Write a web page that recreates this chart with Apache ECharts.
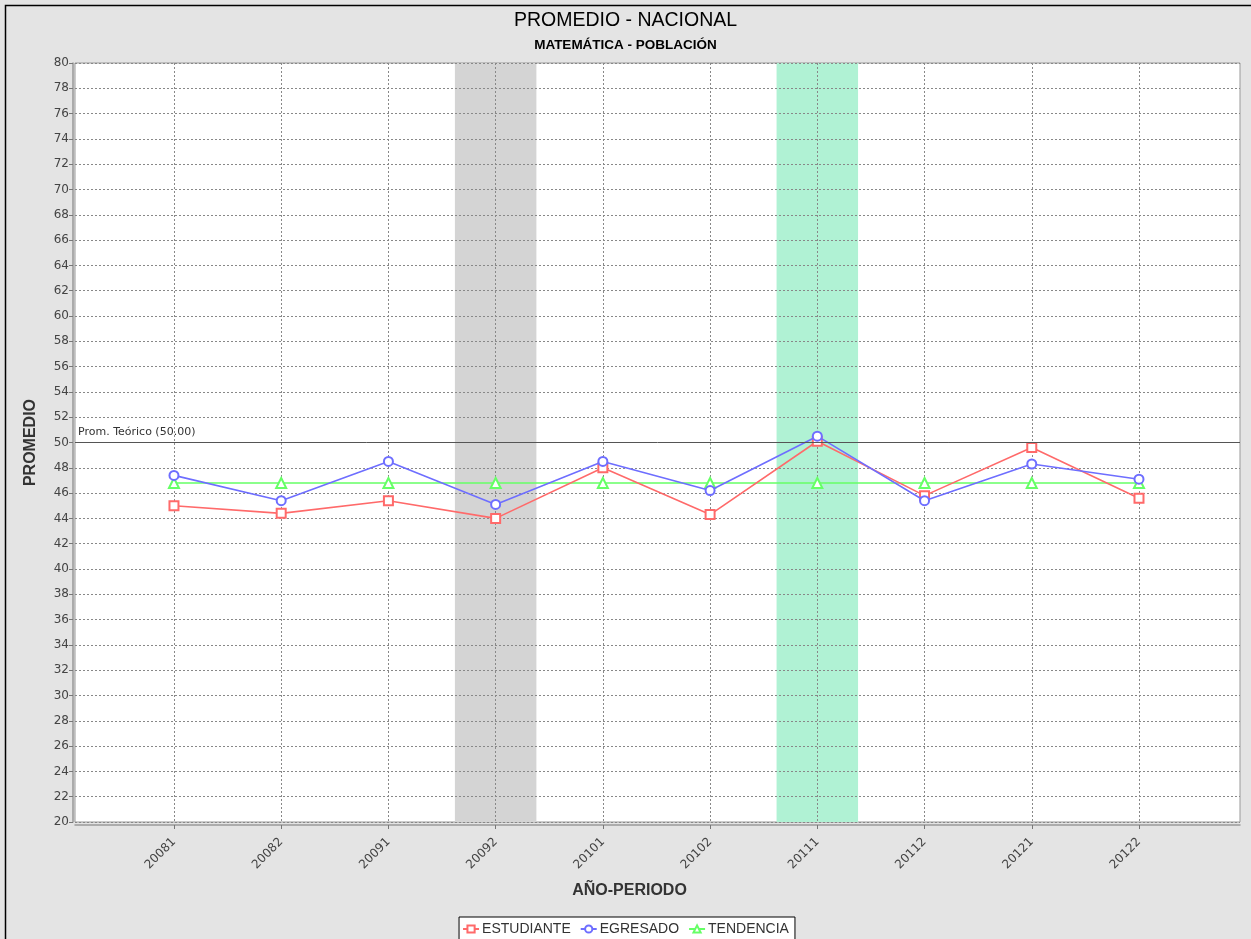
<!DOCTYPE html>
<html>
<head>
<meta charset="utf-8">
<script src="https://cdn.jsdelivr.net/npm/echarts@6/dist/echarts.min.js"></script>
<style>
html,body{margin:0;padding:0;background:#e4e4e4;}
#chart{width:1251px;height:939px;}
</style>
</head>
<body>
<div id="chart"></div>
<script>
const categories = ['20081','20082','20091','20092','20101','20102','20111','20112','20121','20122'];
const estudiante = [45.0, 44.4, 45.4, 44.0, 48.0, 44.3, 50.1, 45.8, 49.6, 45.6];
const egresado   = [47.4, 45.4, 48.5, 45.1, 48.5, 46.2, 50.5, 45.4, 48.3, 47.1];
const tendencia  = [46.8, 46.8, 46.8, 46.8, 46.8, 46.8, 46.8, 46.8, 46.8, 46.8];
const promTeorico = 50.00;
const highlightPeriods = ['20092', '20111'];
const yTicks = [20,22,24,26,28,30,32,34,36,38,40,42,44,46,48,50,52,54,56,58,60,62,64,66,68,70,72,74,76,78,80];

const bandColors = ['#d4d4d4', '#b0f2d4'];
const bandHalf = 0.38;
const idx = categories.map((c, i) => i);
const pts = arr => arr.map((v, i) => [i, v]);

const chart = echarts.init(document.getElementById('chart'), null, {renderer: 'canvas'});
const fontFam = 'DejaVu Sans, sans-serif';
const sansFam = 'Liberation Sans, Arial, sans-serif';

const option = {
  backgroundColor: '#e4e4e4',
  animation: false,
  title: {
    text: 'PROMEDIO - NACIONAL',
    subtext: 'MATEMÁTICA - POBLACIÓN',
    left: 'center',
    top: 6,
    itemGap: 7,
    textStyle: {fontSize: 19.5, fontWeight: 'normal', color: '#000', fontFamily: sansFam},
    subtextStyle: {fontSize: 13.5, fontWeight: 'bold', color: '#000', fontFamily: sansFam}
  },
  graphic: [{
    type: 'rect', silent: true, z: -10,
    shape: {x: 5.5, y: 5.5, width: 1400, height: 1000},
    style: {fill: 'none', stroke: '#000', lineWidth: 1.5}
  }],
  legend: {
    top: 917,
    left: 'center',
    padding: [5, 6, 8, 3],
    itemGap: 9,
    itemWidth: 16,
    itemHeight: 9,
    borderColor: '#000',
    borderWidth: 1,
    backgroundColor: '#fff',
    textStyle: {fontSize: 14, color: '#333', fontFamily: sansFam, padding: [0,0,0,-2]},
    data: ['ESTUDIANTE', 'EGRESADO', 'TENDENCIA']
  },
  grid: {
    left: 75, right: 11, top: 63, bottom: 117, z: -2,
    show: true, backgroundColor: '#fff', borderColor: '#999', borderWidth: 1
  },
  xAxis: {
    type: 'value',
    min: -0.923,
    max: 9.942,
    name: 'AÑO-PERIODO',
    nameLocation: 'middle',
    nameGap: 58,
    nameTextStyle: {fontSize: 16, fontWeight: 'bold', color: '#333', fontFamily: sansFam, padding: [0, 56, 0, 0]},
    offset: 3,
    axisLine: {show: true, onZero: false, lineStyle: {color: '#999', width: 1.5}},
    axisTick: {show: true, customValues: idx, length: 4, lineStyle: {color: '#777'}},
    axisLabel: {
      customValues: idx,
      rotate: 45,
      fontSize: 12,
      color: '#444',
      fontFamily: fontFam,
      margin: 15,
      padding: [0, 0, 0, 0],
      formatter: v => categories[Math.round(v)] || ''
    },
    splitLine: {show: true, lineStyle: {color: '#888', type: [2, 2], width: 1}}
  },
  yAxis: {
    type: 'value',
    min: 20,
    max: 80,
    interval: 2,
    name: 'PROMEDIO',
    nameLocation: 'middle',
    nameGap: 34,
    nameRotate: 90,
    nameTextStyle: {fontSize: 16, fontWeight: 'bold', color: '#333', fontFamily: sansFam},
    offset: 2,
    axisLine: {show: true, onZero: false, lineStyle: {color: '#999', width: 1.5}},
    axisTick: {show: true, length: 4, lineStyle: {color: '#777'}},
    axisLabel: {fontSize: 12, color: '#444', fontFamily: fontFam, margin: 4,
      formatter: v => yTicks.includes(v) ? String(v) : ''},
    splitLine: {show: true, lineStyle: {color: '#888', type: [2, 2], width: 1}}
  },
  series: [
    {
      name: 'bands',
      type: 'line',
      data: [],
      z: -1,
      silent: true,
      markArea: {
        silent: true,
        z: -1,
        data: highlightPeriods.map((p, k) => {
          const i = categories.indexOf(p);
          return [{xAxis: i - bandHalf, itemStyle: {color: bandColors[k]}}, {xAxis: i + bandHalf}];
        })
      }
    },
    {
      name: 'ESTUDIANTE',
      type: 'line',
      data: pts(estudiante),
      symbol: 'emptyRect',
      symbolSize: 9,
      color: '#ff6a6a',
      lineStyle: {width: 1.6, color: '#ff6a6a'},
      itemStyle: {color: '#ff6a6a', borderWidth: 1.5},
      z: 3,
      markLine: {
        silent: true,
        symbol: 'none',
        lineStyle: {color: '#555', type: 'solid', width: 1},
        label: {position: 'insideStartTop', formatter: 'Prom. Teórico (' + promTeorico.toFixed(2) + ')', fontSize: 11, color: '#333', fontFamily: fontFam, distance: [3, 5]},
        data: [{yAxis: promTeorico}]
      }
    },
    {
      name: 'EGRESADO',
      type: 'line',
      data: pts(egresado),
      symbol: 'emptyCircle',
      symbolSize: 9,
      color: '#6e6eff',
      lineStyle: {width: 1.6, color: '#6e6eff'},
      itemStyle: {color: '#6e6eff', borderWidth: 1.5},
      z: 4
    },
    {
      name: 'TENDENCIA',
      type: 'line',
      data: pts(tendencia),
      symbol: 'emptyTriangle',
      symbolSize: 10,
      color: '#66ff66',
      lineStyle: {width: 1.4, color: '#66ff66'},
      itemStyle: {color: '#66ff66', borderWidth: 1.5},
      z: 2
    }
  ]
};
chart.setOption(option);
</script>
</body>
</html>
